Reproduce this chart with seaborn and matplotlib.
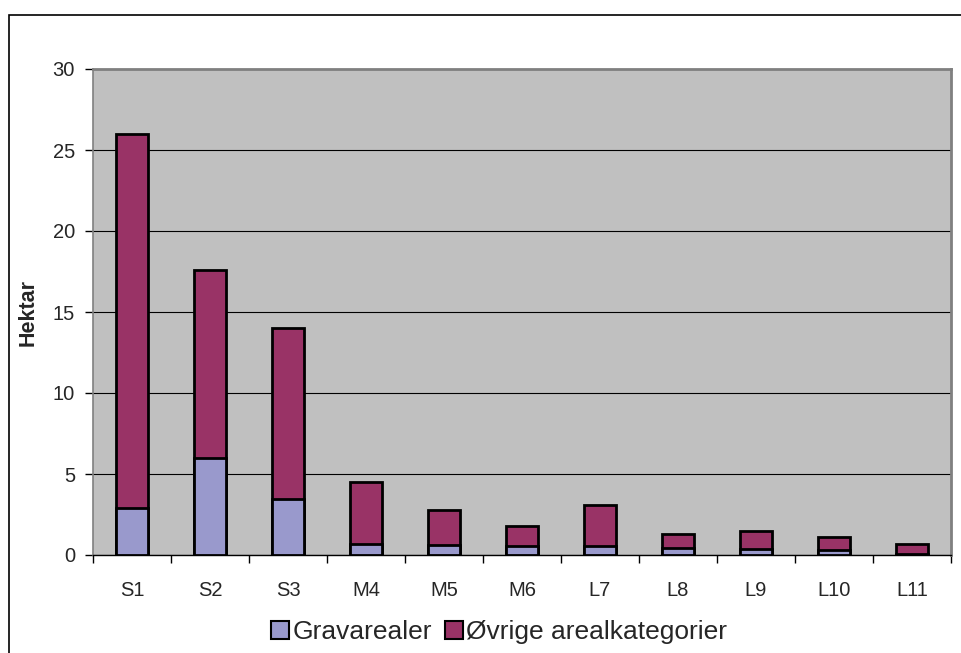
import matplotlib
matplotlib.use("Agg")
import matplotlib.pyplot as plt
import seaborn as sns
import pandas as pd
import numpy as np
from matplotlib.patches import Patch, Rectangle
from matplotlib.ticker import FixedLocator

categories = ["S1", "S2", "S3", "M4", "M5", "M6", "L7", "L8", "L9", "L10", "L11"]
gravarealer = [2.9, 6.0, 3.45, 0.66, 0.64, 0.57, 0.53, 0.41, 0.40, 0.33, 0.05]
total = [26.0, 17.6, 14.0, 4.49, 2.8, 1.81, 3.07, 1.28, 1.48, 1.13, 0.70]
ovrige = [t - g for t, g in zip(total, gravarealer)]
series_names = ["Gravarealer", "Øvrige arealkategorier"]
yticks = [0, 5, 10, 15, 20, 25, 30]

df = pd.DataFrame({"kategori": categories, "grav": gravarealer,
                   "ovrige": ovrige, "total": total})

sns.set_theme(style="white")
plt.rcParams["font.family"] = ["Liberation Sans", "DejaVu Sans"]

C_GRAV = "#9999CC"
C_OVR = "#993366"

fig = plt.figure(figsize=(9.61, 6.53), dpi=100)
W, H = 961, 653
ax = fig.add_axes([93 / W, 1 - 555 / H, (951 - 93) / W, (555 - 69) / H])
ax.set_facecolor("#C0C0C0")

sns.barplot(data=df, x="kategori", y="total", color=C_OVR, edgecolor="black",
            linewidth=2, width=0.41, saturation=1, ax=ax, zorder=3)
sns.barplot(data=df, x="kategori", y="grav", color=C_GRAV, edgecolor="black",
            linewidth=2, width=0.41, saturation=1, ax=ax, zorder=4)

ax.set_ylim(0, 30)
ax.set_xlim(-0.5, len(categories) - 0.5)
ax.set_yticks(yticks)
ax.set_yticklabels([str(v) for v in yticks], fontsize=14.5)
ax.grid(axis="y", color="black", linewidth=0.8, zorder=1)
ax.set_axisbelow(True)
ax.set_xlabel("")
ax.set_ylabel("Hektar", fontsize=15.5, fontweight="bold", labelpad=10)

ax.tick_params(axis="x", which="major", length=0, labelsize=14.5, pad=19)
ax.xaxis.set_minor_locator(FixedLocator(np.arange(-0.5, len(categories), 1.0)))
ax.tick_params(axis="x", which="minor", length=6, width=1, color="black", direction="out", bottom=True)
ax.tick_params(axis="y", which="major", length=6, width=1, color="black", direction="out", left=True, pad=7)

for side in ["top", "right"]:
    ax.spines[side].set_color("#808080")
    ax.spines[side].set_linewidth(2)
ax.spines["left"].set_color("#808080")
ax.spines["left"].set_linewidth(1.2)
ax.spines["bottom"].set_color("black")
ax.spines["bottom"].set_linewidth(1)

handles = [Patch(facecolor=C_GRAV, edgecolor="black", linewidth=1.5),
           Patch(facecolor=C_OVR, edgecolor="black", linewidth=1.5)]
fig.legend(handles, series_names, loc="center", bbox_to_anchor=(499 / W, 1 - 632 / H),
           ncol=2, frameon=False, fontsize=19, handlelength=0.7, handleheight=0.7,
           handletextpad=0.12, columnspacing=0.5, borderpad=0)

frame = Rectangle((9 / W, -0.1), 1.2, 1 - 15 / H + 0.1, transform=fig.transFigure,
                  fill=False, edgecolor="black", linewidth=1.2)
fig.add_artist(frame)

fig.savefig("out.png", dpi=100)
